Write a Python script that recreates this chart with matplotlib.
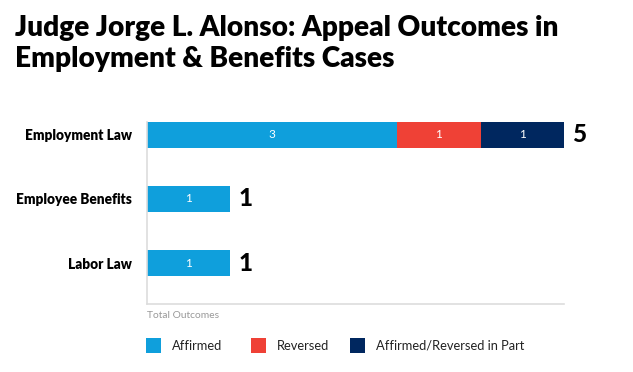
import matplotlib
matplotlib.use("Agg")
import matplotlib.pyplot as plt
from matplotlib.patches import Rectangle

categories = ["Employment Law", "Employee Benefits", "Labor Law"]
series_names = ["Affirmed", "Reversed", "Affirmed/Reversed in Part"]
affirmed = [3, 1, 1]
reversed_ = [1, 0, 0]
partial = [1, 0, 0]
colors = ["#0f9fdc", "#ef4136", "#00275f"]

plt.rcParams['font.family'] = ['Lato', 'DejaVu Sans']

W, H = 633, 372
fig = plt.figure(figsize=(W / 100, H / 100), dpi=100)
ax = fig.add_axes([147 / W, 1 - 304 / H, (564 - 147) / W, (304 - 94) / H])

ys = list(range(len(categories)))
series = [affirmed, reversed_, partial]
lefts = [0] * len(categories)
for vals, col in zip(series, colors):
    ax.barh(ys, vals, left=lefts, height=0.4, color=col, edgecolor='none')
    for y, v, l in zip(ys, vals, lefts):
        if v > 0:
            ax.text(l + v / 2, y, str(v), ha='center', va='center', color='white', fontsize=8.5)
    lefts = [a + b for a, b in zip(lefts, vals)]

for y, t in zip(ys, lefts):
    ax.text(t + 0.1, y, str(t), ha='left', va='center', fontsize=17.5, fontweight='black', color='black')

bottom = len(categories) - 1 + 0.64
ax.set_xlim(0, 5)
ax.set_ylim(bottom, -0.64)
ax.set_yticks(ys)
ax.set_yticklabels(categories, fontsize=9.8, fontweight='heavy')
ax.tick_params(axis='y', length=0, pad=11)
ax.set_xticks([])
for s in ['top', 'right']:
    ax.spines[s].set_visible(False)
for s in ['left', 'bottom']:
    ax.spines[s].set_color('#dddddd')
    ax.spines[s].set_linewidth(1.2)
ax.spines['left'].set_bounds(bottom, -0.2)

fig.text(147 / W, 1 - 316 / H, "Total Outcomes", fontsize=7.4, color='#999999', ha='left', va='center')

fig.text(15 / W, 1 - 28 / H, "Judge Jorge L. Alonso: Appeal Outcomes in", fontsize=20.2,
         fontweight='heavy', ha='left', va='center')
fig.text(15 / W, 1 - 59 / H, "Employment & Benefits Cases", fontsize=20.2,
         fontweight='heavy', ha='left', va='center')

legend_x = [146, 251, 350]
for x, name, col in zip(legend_x, series_names, colors):
    fig.patches.append(Rectangle((x / W, 1 - 353 / H), 15 / W, 15 / H, transform=fig.transFigure,
                                 facecolor=col, edgecolor='none'))
    fig.text((x + 26) / W, 1 - 346 / H, name, fontsize=9.3, ha='left', va='center', color='#222222')

fig.savefig("out.png", dpi=100)
